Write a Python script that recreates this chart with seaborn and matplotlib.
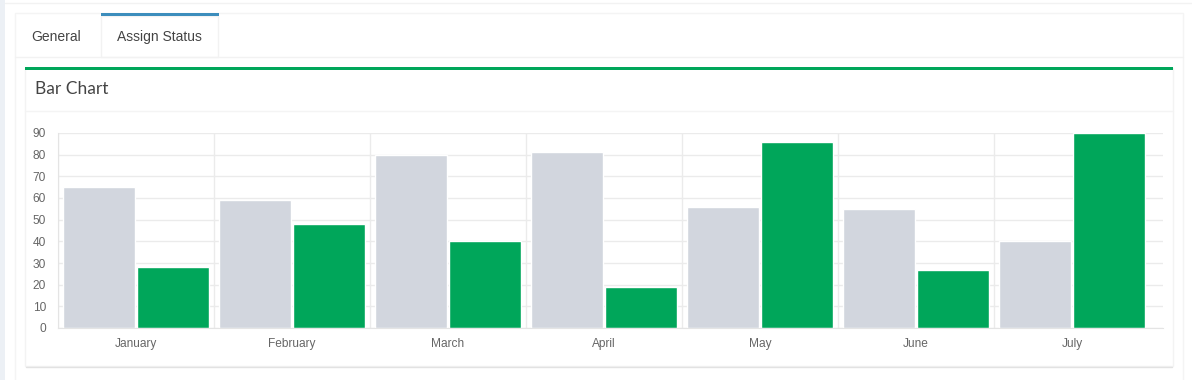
import numpy as np
import pandas as pd
import matplotlib
matplotlib.use('Agg')
import matplotlib.pyplot as plt
import seaborn as sns
from matplotlib.patches import Rectangle

# Chart data
MONTHS = ['January', 'February', 'March', 'April', 'May', 'June', 'July']
SERIES_GREY = [65, 59, 80, 81, 56, 55, 40]
SERIES_GREEN = [28, 48, 40, 19, 86, 27, 90]
Y_TICKS = [0, 10, 20, 30, 40, 50, 60, 70, 80, 90]
TAB_LABELS = ['General', 'Assign Status']
BOX_TITLE = 'Bar Chart'

# Colours (AdminLTE look)
GREY = '#d2d6de'
GREEN = '#00a65a'
BLUE = '#3c8dbc'
TEXT = '#444444'
TICK_TEXT = '#666666'
GRID = '#ebebeb'
BORDER = '#f2f2f2'
PAGE_BG = '#ecf0f5'

W, H = 1192, 380


def rect(ax, x0, y0, x1, y1, **kw):
    """Rectangle in page pixel coordinates."""
    ax.add_patch(Rectangle((x0, y0), x1 - x0, y1 - y0, **kw))


def draw_page(fig):
    """Draw the tab strip and box around the chart."""
    bg = fig.add_axes([0, 0, 1, 1], zorder=0)
    bg.set_xlim(0, W)
    bg.set_ylim(H, 0)
    bg.axis('off')

    rect(bg, 0, 0, W, H, color='white', lw=0)
    rect(bg, 0, 0, 4.5, H, color=PAGE_BG, lw=0)
    bg.plot([5, W], [2.5, 2.5], color=BORDER, lw=1)

    # outer tabs container
    rect(bg, 15, 13, 1183, H + 5, facecolor='white', edgecolor='#f4f4f4', lw=1)
    bg.plot([15, 1183], [56.5, 56.5], color=BORDER, lw=1)

    # active tab
    rect(bg, 101, 16, 218, 57, facecolor='white', edgecolor=BORDER, lw=1)
    rect(bg, 100.5, 13, 218.5, 16, color=BLUE, lw=0)
    bg.text(31, 37, TAB_LABELS[0], fontsize=10, color=TEXT, va='center', ha='left')
    bg.text(117, 37, TAB_LABELS[1], fontsize=10, color=TEXT, va='center', ha='left')

    # box with faint border and a light bottom shadow
    rect(bg, 25, 68, 1173, 366, facecolor='white', edgecolor='#f3f3f3', lw=1)
    bg.plot([26, 1172], [366.5, 366.5], color='#e2e2e2', lw=1)
    rect(bg, 25, 66.5, 1173, 70, color=GREEN, lw=0)
    bg.plot([25, 1173], [110.5, 110.5], color='#f4f4f4', lw=1)
    bg.text(35, 89, BOX_TITLE, fontsize=12.5, color=TEXT, va='center', ha='left',
            family=['Lato', 'DejaVu Sans'])


def draw_chart(fig):
    df = pd.DataFrame({
        'month': MONTHS * 2,
        'value': SERIES_GREY + SERIES_GREEN,
        'series': ['grey'] * len(MONTHS) + ['green'] * len(MONTHS),
    })

    left, right, top, bottom = 58, 1163, 133, 328
    ax = fig.add_axes([left / W, (H - bottom) / H, (right - left) / W, (bottom - top) / H], zorder=1)
    ax.set_facecolor('none')
    ax.set_axisbelow(True)

    sns.barplot(data=df, x='month', y='value', hue='series', palette=[GREY, GREEN],
                width=0.94, gap=0.015, saturation=1, legend=False, ax=ax)

    ax.set_xlabel('')
    ax.set_ylabel('')
    ax.set_ylim(0, 90)
    ax.set_yticks(Y_TICKS)
    ax.set_xlim(-0.5, -0.5 + (right - left) / 156)
    ax.set_xticks(range(len(MONTHS)))
    ax.set_xticklabels(MONTHS)
    ax.set_xticks(np.arange(len(MONTHS)) - 0.5, minor=True)

    ax.yaxis.grid(True, color=GRID, lw=1)
    ax.xaxis.grid(True, which='minor', color=GRID, lw=1)
    ax.xaxis.grid(False, which='major')

    for s in ['top', 'right']:
        ax.spines[s].set_visible(False)
    ax.spines['left'].set_color('#e4e4e4')
    ax.spines['bottom'].set_color('#e4e4e4')

    ax.tick_params(axis='y', length=7.2, width=1, color=GRID, labelcolor=TICK_TEXT,
                   labelsize=8.6, pad=1.5)
    ax.tick_params(axis='x', which='major', length=0, labelcolor=TICK_TEXT,
                   labelsize=8.6, pad=7)
    ax.tick_params(axis='x', which='minor', length=3.6, width=1, color=GRID)
    return ax


def main():
    sns.set_style('white')
    plt.rcParams['font.family'] = ['Liberation Sans', 'DejaVu Sans']
    fig = plt.figure(figsize=(W / 100, H / 100), dpi=100)
    draw_page(fig)
    draw_chart(fig)
    fig.savefig('out.png', dpi=100)


if __name__ == '__main__':
    main()
